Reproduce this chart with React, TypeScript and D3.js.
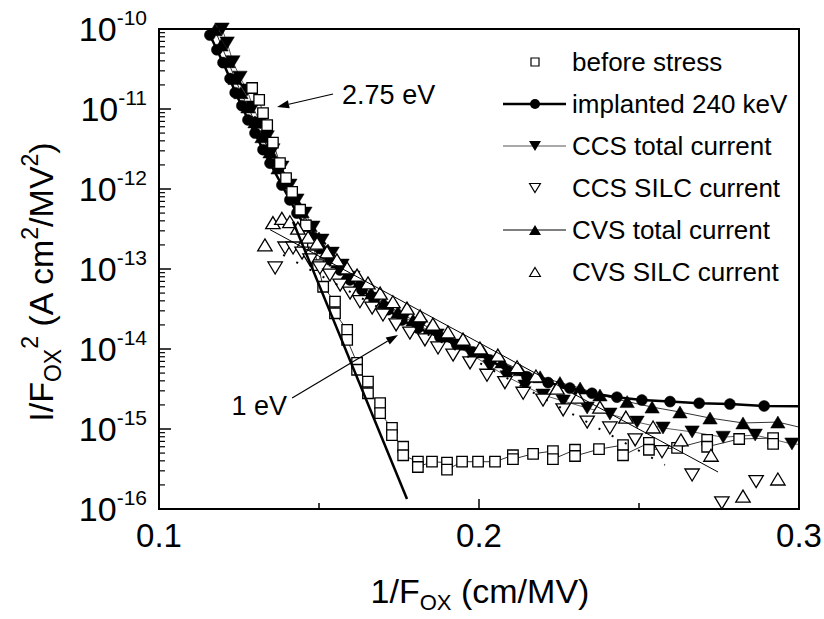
import React from "react";
import * as d3 from "d3";

// ---------------- data ----------------
const BEFORE_X = [0.1291,0.1313,0.1325,0.1338,0.1356,0.1378,0.1397,0.1416,0.1441,0.1459,0.1481,0.1497,0.1513,0.1550,0.1550,0.1588,0.1588,0.1619,0.1619,0.1653,0.1653,0.1691,0.1691,0.1728,0.1728,0.1763,0.1763,0.1809,0.1809,0.1853,0.1900,0.1900,0.1947,0.1997,0.2050,0.2106,0.2106,0.2169,0.2231,0.2231,0.2300,0.2300,0.2375,0.2450,0.2450,0.2531,0.2531,0.2619,0.2713,0.2713,0.2813,0.2919,0.2919];
const BEFORE_Y = [1.83e-11,1.3e-11,8.9e-12,6.3e-12,3.8e-12,2.1e-12,1.37e-12,9.2e-13,5.5e-13,3.5e-13,2.0e-13,1.12e-13,6.0e-14,3.9e-14,2.8e-14,1.73e-14,1.3e-14,6.7e-15,5.5e-15,3.9e-15,2.8e-15,2.1e-15,1.58e-15,1.03e-15,8.4e-16,6.0e-16,4.7e-16,3.9e-16,3.35e-16,3.9e-16,3.8e-16,3.1e-16,3.9e-16,3.9e-16,3.9e-16,4.7e-16,4.2e-16,4.9e-16,5.3e-16,4.2e-16,5.5e-16,4.6e-16,5.6e-16,6.3e-16,4.7e-16,6.7e-16,5.5e-16,5.8e-16,7.3e-16,6.0e-16,7.5e-16,7.7e-16,6.5e-16];

const IMPL_X = [0.1159,0.1181,0.1200,0.1222,0.1238,0.1259,0.1278,0.1300,0.1325,0.1347,0.1384,0.1409,0.1431,0.1456,0.1481,0.1503,0.1534,0.1566,0.1597,0.1634,0.1672,0.1716,0.1759,0.1809,0.1878,0.1931,0.1981,0.2034,0.2091,0.2150,0.2216,0.2284,0.2353,0.2431,0.2509,0.2597,0.2688,0.2784,0.2891,0.31];
const IMPL_Y = [8.4e-11,5.5e-11,3.8e-11,2.4e-11,1.6e-11,1.1e-11,7.3e-12,5.0e-12,3.1e-12,2.1e-12,1.12e-12,7.3e-13,5.0e-13,3.5e-13,2.5e-13,1.8e-13,1.3e-13,9.7e-14,7.3e-14,5.5e-14,4.1e-14,3.1e-14,2.3e-14,1.83e-14,1.41e-14,1.12e-14,9.2e-15,7.3e-15,5.3e-15,4.5e-15,3.8e-15,3.25e-15,2.8e-15,2.5e-15,2.3e-15,2.2e-15,2.1e-15,2.05e-15,1.94e-15,1.9e-15];

const CCS_TOT_X = [0.1197,0.1213,0.1231,0.1253,0.1275,0.1294,0.1316,0.1338,0.1356,0.1384,0.1409,0.1431,0.1456,0.1481,0.1509,0.1541,0.1572,0.1606,0.1641,0.1678,0.1722,0.1766,0.1816,0.1869,0.1925,0.1978,0.2034,0.2088,0.2144,0.2200,0.2263,0.2338,0.2409,0.2494,0.2575,0.2666,0.2763,0.2863,0.2978,0.31];
const CCS_TOT_Y = [1.0e-10,6.7e-11,3.9e-11,2.5e-11,1.73e-11,1.06e-11,6.7e-12,4.5e-12,3.1e-12,1.88e-12,1.12e-12,7.3e-13,5.0e-13,3.35e-13,2.3e-13,1.58e-13,1.12e-13,7.9e-14,5.8e-14,4.3e-14,3.25e-14,2.5e-14,1.94e-14,1.5e-14,1.12e-14,8.4e-15,6.1e-15,4.5e-15,3.45e-15,2.66e-15,2.24e-15,1.83e-15,1.54e-15,1.22e-15,1.03e-15,9.2e-16,7.9e-16,8.4e-16,6.5e-16,6.2e-16];

const CVS_TOT_X = [0.1175,0.1194,0.1216,0.1238,0.1256,0.1278,0.1300,0.1322,0.1347,0.1372,0.1397,0.1422,0.1447,0.1472,0.1500,0.1528,0.1559,0.1591,0.1625,0.1663,0.1703,0.1747,0.1794,0.1847,0.1900,0.1956,0.2013,0.2072,0.2128,0.2191,0.2253,0.2316,0.2378,0.2463,0.2541,0.2628,0.2722,0.2825,0.2934,0.31];
const CVS_TOT_Y = [9.8e-11,6.3e-11,3.9e-11,2.4e-11,1.6e-11,1.06e-11,6.9e-12,4.5e-12,2.9e-12,1.83e-12,1.19e-12,7.7e-13,5.2e-13,3.5e-13,2.44e-13,1.73e-13,1.22e-13,8.9e-14,6.7e-14,5.0e-14,3.8e-14,2.9e-14,2.3e-14,1.83e-14,1.45e-14,1.15e-14,9.2e-15,6.9e-15,5.5e-15,4.5e-15,3.8e-15,3.25e-15,2.66e-15,2.2e-15,1.88e-15,1.63e-15,1.37e-15,1.19e-15,1.22e-15,8.5e-16];

const CCS_SILC_X = [0.1363,0.1394,0.1419,0.1447,0.1472,0.1503,0.1534,0.1566,0.1597,0.1628,0.1666,0.1700,0.1741,0.1784,0.1831,0.1872,0.1919,0.1972,0.2025,0.2081,0.2138,0.2200,0.2263,0.2338,0.2409,0.2488,0.2572,0.2666,0.2759,0.2866];
const CCS_SILC_Y = [1.03e-13,1.83e-13,1.83e-13,1.58e-13,1.3e-13,1.03e-13,8.4e-14,6.3e-14,5.0e-14,3.9e-14,3.25e-14,2.66e-14,2.0e-14,1.58e-14,1.3e-14,1.03e-14,8.4e-15,6.7e-15,4.7e-15,3.8e-15,2.8e-15,2.3e-15,1.73e-15,1.22e-15,1.03e-15,7.3e-16,5.2e-16,2.66e-16,1.19e-16,2.2e-16];

const CVS_SILC_X = [0.1331,0.1356,0.1384,0.1409,0.1434,0.1466,0.1494,0.1525,0.1556,0.1588,0.1619,0.1653,0.1691,0.1731,0.1775,0.1816,0.1856,0.1903,0.1950,0.2003,0.2059,0.2119,0.2178,0.2244,0.2309,0.2378,0.2459,0.2544,0.2631,0.2725,0.2825,0.2934];
const CVS_SILC_Y = [2.0e-13,3.8e-13,4.3e-13,3.9e-13,3.25e-13,2.5e-13,2.1e-13,1.63e-13,1.3e-13,1.03e-13,8.4e-14,6.7e-14,5.0e-14,3.9e-14,3.25e-14,2.6e-14,2.05e-14,1.63e-14,1.33e-14,1.03e-14,8.4e-15,6.0e-15,4.6e-15,3.25e-15,2.5e-15,1.88e-15,1.41e-15,1.06e-15,7.3e-16,4.7e-16,1.45e-16,2.37e-16];

// fitted lines (end points)
const FIT_STEEP_X = [0.1419, 0.1775];
const FIT_STEEP_Y = [3.9e-13, 1.33e-16];
const FIT_THIN_X = [0.1347, 0.2747];
const FIT_THIN_Y = [3.1e-13, 2.9e-16];
const FIT_DOT_X = [0.1388, 0.2581];
const FIT_DOT_Y = [1.5e-13, 3.55e-16];

// annotations
const ANNOT_275_ARROW_X = [0.1544, 0.1369];
const ANNOT_275_ARROW_Y = [1.54e-11, 1.06e-11];
const ANNOT_1_ARROW_X = [0.1416, 0.1747];
const ANNOT_1_ARROW_Y = [2.44e-15, 1.5e-14];

const X_TICKS = [0.1, 0.2, 0.3];
const X_MINOR = [0.15, 0.25];
const X_TICK_LABELS = ["0.1", "0.2", "0.3"];
const Y_EXPONENTS = [-10, -11, -12, -13, -14, -15, -16];

const LEGEND_LABELS = [
  "before stress",
  "implanted 240 keV",
  "CCS total current",
  "CCS SILC current",
  "CVS total current",
  "CVS SILC current",
];

// ---------------- layout ----------------
const W = 824, H = 619;
const L = 159, R = 799, T = 29, B = 509;
const FONT = "'Liberation Sans', Arial, Helvetica, sans-serif";

const x = d3.scaleLinear().domain([0.1, 0.3]).range([L, R]);
const y = d3.scaleLog().domain([1e-16, 1e-10]).range([B, T]);

type Kind = "square" | "circle" | "down" | "up";

function markerPath(kind: Kind, s: number): string {
  if (kind === "square") {
    const h = s / 2;
    return `M${-h},${-h}H${h}V${h}H${-h}Z`;
  }
  if (kind === "circle") {
    const r = s / 2;
    return `M${r},0A${r},${r} 0 1,1 ${-r},0A${r},${r} 0 1,1 ${r},0Z`;
  }
  const hw = s * 0.6;
  const hh = s * 0.5;
  if (kind === "up") return `M0,${-hh}L${hw},${hh}L${-hw},${hh}Z`;
  return `M0,${hh}L${hw},${-hh}L${-hw},${-hh}Z`;
}

function zip(xs: number[], ys: number[]): [number, number][] {
  return xs.map((v, i) => [v, ys[i]] as [number, number]);
}

const lineGen = d3
  .line<[number, number]>()
  .x((d) => x(d[0]))
  .y((d) => y(d[1]));

function Markers({ pts, kind, size, fill, stroke, sw }: { pts: [number, number][]; kind: Kind; size: number; fill: string; stroke: string; sw: number }) {
  const p = markerPath(kind, size);
  return (
    <g>
      {pts.map((d, i) => (
        <path key={i} d={p} transform={`translate(${x(d[0])},${y(d[1])})`} fill={fill} stroke={stroke} strokeWidth={sw} />
      ))}
    </g>
  );
}

function Arrow({ xs, ys }: { xs: number[]; ys: number[] }) {
  const x0 = x(xs[0]), y0 = y(ys[0]), x1 = x(xs[1]), y1 = y(ys[1]);
  const ang = Math.atan2(y1 - y0, x1 - x0);
  const len = 12, wid = 4;
  const bx = x1 - len * Math.cos(ang), by = y1 - len * Math.sin(ang);
  const px = -Math.sin(ang) * wid, py = Math.cos(ang) * wid;
  return (
    <g>
      <line x1={x0} y1={y0} x2={bx} y2={by} stroke="#000" strokeWidth={1.2} />
      <path d={`M${x1},${y1}L${bx + px},${by + py}L${bx - px},${by - py}Z`} fill="#000" />
    </g>
  );
}

export default function App() {
  const before = zip(BEFORE_X, BEFORE_Y);
  const impl = zip(IMPL_X, IMPL_Y);
  const ccsT = zip(CCS_TOT_X, CCS_TOT_Y);
  const cvsT = zip(CVS_TOT_X, CVS_TOT_Y);
  const ccsS = zip(CCS_SILC_X, CCS_SILC_Y);
  const cvsS = zip(CVS_SILC_X, CVS_SILC_Y);

  const minorY: number[] = [];
  for (let e = -16; e < -10; e++) for (let m = 2; m <= 9; m++) minorY.push(m * Math.pow(10, e));

  const legendY = (i: number) => 62 + i * 42;
  const legX = 535;

  return (
    <svg width={W} height={H} style={{ position: "absolute", left: 0, top: 0, background: "#fff" }} fontFamily={FONT}>
      <rect x={0} y={0} width={W} height={H} fill="#fff" />
      <defs>
        <clipPath id="plotClip">
          <rect x={L - 10} y={T - 12} width={R - L + 10} height={B - T + 22} />
        </clipPath>
        <clipPath id="lineClip">
          <rect x={L} y={T} width={R - L} height={B - T} />
        </clipPath>
      </defs>

      {/* connecting lines */}
      <g clipPath="url(#lineClip)" fill="none">
        <path d={lineGen(before) || ""} stroke="#000" strokeWidth={0.8} />
        <path d={lineGen(ccsT) || ""} stroke="#333" strokeWidth={0.8} />
        <path d={lineGen(cvsT) || ""} stroke="#000" strokeWidth={0.8} />
        <path d={lineGen(impl) || ""} stroke="#000" strokeWidth={2.5} />
      </g>

      {/* markers */}
      <g clipPath="url(#plotClip)">
        <Markers pts={impl} kind="circle" size={11} fill="#000" stroke="#000" sw={0.5} />
        <Markers pts={ccsT} kind="down" size={12} fill="#000" stroke="#000" sw={0.5} />
        <Markers pts={cvsT} kind="up" size={12} fill="#000" stroke="#000" sw={0.5} />
        <Markers pts={before} kind="square" size={10.5} fill="#fff" stroke="#000" sw={1.3} />
        <Markers pts={ccsS} kind="down" size={12} fill="#fff" stroke="#000" sw={1.3} />
        <Markers pts={cvsS} kind="up" size={12} fill="#fff" stroke="#000" sw={1.3} />
      </g>

      {/* fit lines */}
      <g clipPath="url(#lineClip)" fill="none">
        <path d={lineGen(zip(FIT_STEEP_X, FIT_STEEP_Y)) || ""} stroke="#000" strokeWidth={2.5} />
        <path d={lineGen(zip(FIT_THIN_X, FIT_THIN_Y)) || ""} stroke="#000" strokeWidth={1} />
        <path d={lineGen(zip(FIT_DOT_X, FIT_DOT_Y)) || ""} stroke="#000" strokeWidth={2} strokeDasharray="2,13" />
      </g>

      {/* axes frame */}
      <rect x={L} y={T} width={R - L} height={B - T} fill="none" stroke="#000" strokeWidth={2} />

      {/* y ticks */}
      {Y_EXPONENTS.map((e) => (
        <line key={"ym" + e} x1={L} x2={L + 12} y1={y(Math.pow(10, e))} y2={y(Math.pow(10, e))} stroke="#000" strokeWidth={1.5} />
      ))}
      {minorY.map((v, i) => (
        <line key={"yn" + i} x1={L} x2={L + 6} y1={y(v)} y2={y(v)} stroke="#000" strokeWidth={1.2} />
      ))}
      {Y_EXPONENTS.map((e) => (
        <text key={"yl" + e} x={147} y={y(Math.pow(10, e)) + 12} textAnchor="end" fontSize={34} fill="#000">
          10
          <tspan fontSize={21} dy={-16}>{String(e)}</tspan>
        </text>
      ))}

      {/* x ticks */}
      {X_TICKS.map((v) => (
        <line key={"xm" + v} x1={x(v)} x2={x(v)} y1={B} y2={B - 10} stroke="#000" strokeWidth={1.5} />
      ))}
      {X_MINOR.map((v) => (
        <line key={"xn" + v} x1={x(v)} x2={x(v)} y1={B} y2={B - 6} stroke="#000" strokeWidth={1.5} />
      ))}
      {X_TICKS.map((v, i) => (
        <text key={"xl" + v} x={x(v)} y={547} textAnchor="middle" fontSize={33} fill="#000">
          {X_TICK_LABELS[i]}
        </text>
      ))}

      {/* axis titles */}
      <text x={480} y={603} textAnchor="middle" fontSize={34} fill="#000">
        1/F<tspan fontSize={22} dy={7}>OX</tspan>
        <tspan dy={-7}> (cm/MV)</tspan>
      </text>
      <text transform="translate(53,282) rotate(-90)" textAnchor="middle" fontSize={34} fill="#000">
        I/F<tspan fontSize={23} dy={8}>OX</tspan>
        <tspan fontSize={23} dy={-23}>2</tspan>
        <tspan dy={15}> (A cm</tspan>
        <tspan fontSize={23} dy={-15}>2</tspan>
        <tspan dy={15}>/MV</tspan>
        <tspan fontSize={23} dy={-15}>2</tspan>
        <tspan dy={15}>)</tspan>
      </text>

      {/* annotations */}
      <Arrow xs={ANNOT_275_ARROW_X} ys={ANNOT_275_ARROW_Y} />
      <text x={x(ANNOT_275_ARROW_X[0]) + 9} y={y(ANNOT_275_ARROW_Y[0]) + 10} fontSize={27} fill="#000">2.75 eV</text>
      <Arrow xs={ANNOT_1_ARROW_X} ys={ANNOT_1_ARROW_Y} />
      <text x={x(ANNOT_1_ARROW_X[0]) - 5} y={y(ANNOT_1_ARROW_Y[0]) + 17} textAnchor="end" fontSize={27} fill="#000">1 eV</text>

      {/* legend */}
      <g>
        <line x1={503} x2={566} y1={legendY(1)} y2={legendY(1)} stroke="#000" strokeWidth={2.5} />
        <line x1={503} x2={566} y1={legendY(2)} y2={legendY(2)} stroke="#555" strokeWidth={1} />
        <line x1={503} x2={566} y1={legendY(4)} y2={legendY(4)} stroke="#000" strokeWidth={1} />
        <path d={markerPath("square", 8)} transform={`translate(${legX},${legendY(0)})`} fill="#fff" stroke="#000" strokeWidth={1.2} />
        <path d={markerPath("circle", 10)} transform={`translate(${legX},${legendY(1)})`} fill="#000" />
        <path d={markerPath("down", 10)} transform={`translate(${legX},${legendY(2)})`} fill="#000" />
        <path d={markerPath("down", 9)} transform={`translate(${legX},${legendY(3)})`} fill="#fff" stroke="#000" strokeWidth={1.2} />
        <path d={markerPath("up", 10)} transform={`translate(${legX},${legendY(4)})`} fill="#000" />
        <path d={markerPath("up", 9)} transform={`translate(${legX},${legendY(5)})`} fill="#fff" stroke="#000" strokeWidth={1.2} />
        {LEGEND_LABELS.map((s, i) => (
          <text key={s} x={572} y={legendY(i) + 9} fontSize={26} fill="#000">{s}</text>
        ))}
      </g>
    </svg>
  );
}
